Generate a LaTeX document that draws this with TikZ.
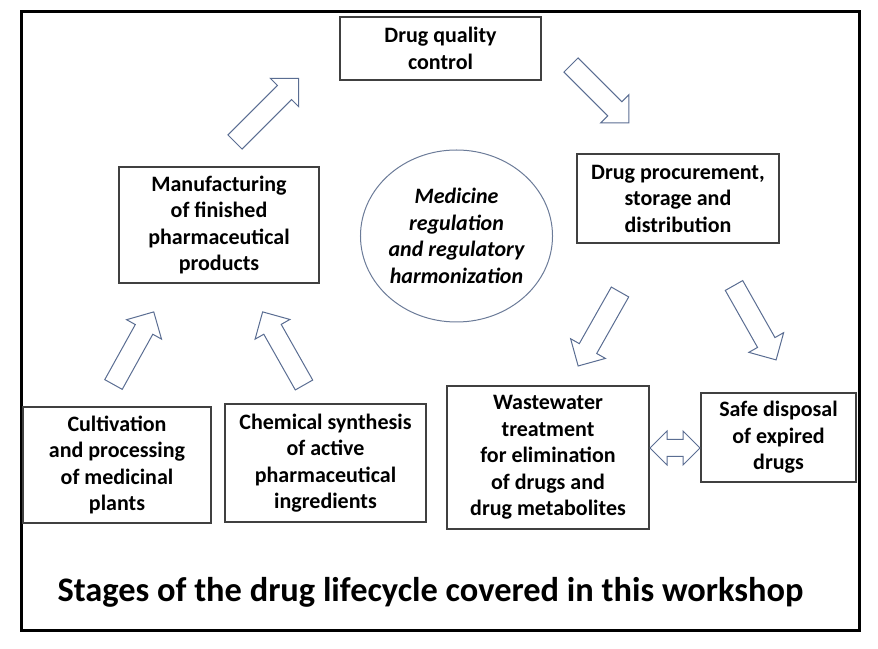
\documentclass[tikz,border=0pt]{standalone}
\usepackage{fontspec}
\setmainfont{Carlito}
\usetikzlibrary{shapes.geometric}
\definecolor{arrblue}{HTML}{5A6D92}
\definecolor{boxgray}{HTML}{404040}
\definecolor{ringblue}{HTML}{6B7B98}
\tikzset{
  stage/.style={draw=boxgray, line width=1.2pt, inner sep=0pt, align=center,
    font=\bfseries\fontsize{22}{26.5}\selectfont},
  arrline/.style={draw=arrblue, line width=1pt, line join=miter},
  pics/fatarrow/.style={code={
    \draw[arrline] (0,-10)--(#1-20,-10)--(#1-20,-20)--(#1,0)--(#1-20,20)--(#1-20,10)--(0,10)--cycle;}},
  pics/dblarrow/.style={code={
    \draw[arrline] (0,0)--(17,17)--(17,8.5)--(#1-17,8.5)--(#1-17,17)--(#1,0)--(#1-17,-17)--(#1-17,-8.5)--(17,-8.5)--(17,-17)--cycle;}}
}
\begin{document}
\begin{tikzpicture}[x=1pt, y=1pt]
\useasboundingbox (0,0) rectangle (878,648);
\draw[line width=3pt] (21,18) rectangle (859,636);
% stages
\node[stage, minimum width=201, minimum height=63] (qc) at (440.5,599.5) {Drug quality\\control};
\node[stage, minimum width=200, minimum height=116] (manuf) at (219,423) {Manufacturing\\of finished\\pharmaceutical\\products};
\node[stage, minimum width=202, minimum height=89] (proc) at (678,449.5) {Drug procurement,\\storage and\\distribution};
\node[stage, minimum width=188, minimum height=116] (cult) at (117,183) {Cultivation\\and processing\\of medicinal\\plants};
\node[stage, minimum width=201, minimum height=118] (chem) at (325.5,185) {Chemical synthesis\\of active\\pharmaceutical\\ingredients};
\node[stage, minimum width=202, minimum height=143] (waste) at (548,190.5) {Wastewater\\treatment\\for elimination\\of drugs and\\drug metabolites};
\node[stage, minimum width=155, minimum height=89] (safe) at (778.5,210.5) {Safe disposal\\of expired\\drugs};
\node[ellipse, draw=ringblue, line width=1pt, inner sep=0pt, minimum width=187, minimum height=172,
  align=center, font=\bfseries\itshape\fontsize{22}{26.5}\selectfont] (reg) at (456.5,412)
  {Medicine\\regulation\\and regulatory\\harmonization};
% block arrows
\pic[rotate=45] at (235,506) {fatarrow=90};
\pic[rotate=-45] at (571,583) {fatarrow=82};
\pic[rotate=61] at (113.5,263.5) {fatarrow=83};
\pic[rotate=119.5] at (304,263) {fatarrow=84};
\pic[rotate=-119.5] at (620,356) {fatarrow=85};
\pic[rotate=-60.5] at (734,362.5) {fatarrow=85.5};
\pic at (650,200) {dblarrow=50};
\node[font=\bfseries\fontsize{34.4}{40}\selectfont, anchor=base] (title) at (430.5,46.5)
  {Stages of the drug lifecycle covered in this workshop};
\end{tikzpicture}
\end{document}
